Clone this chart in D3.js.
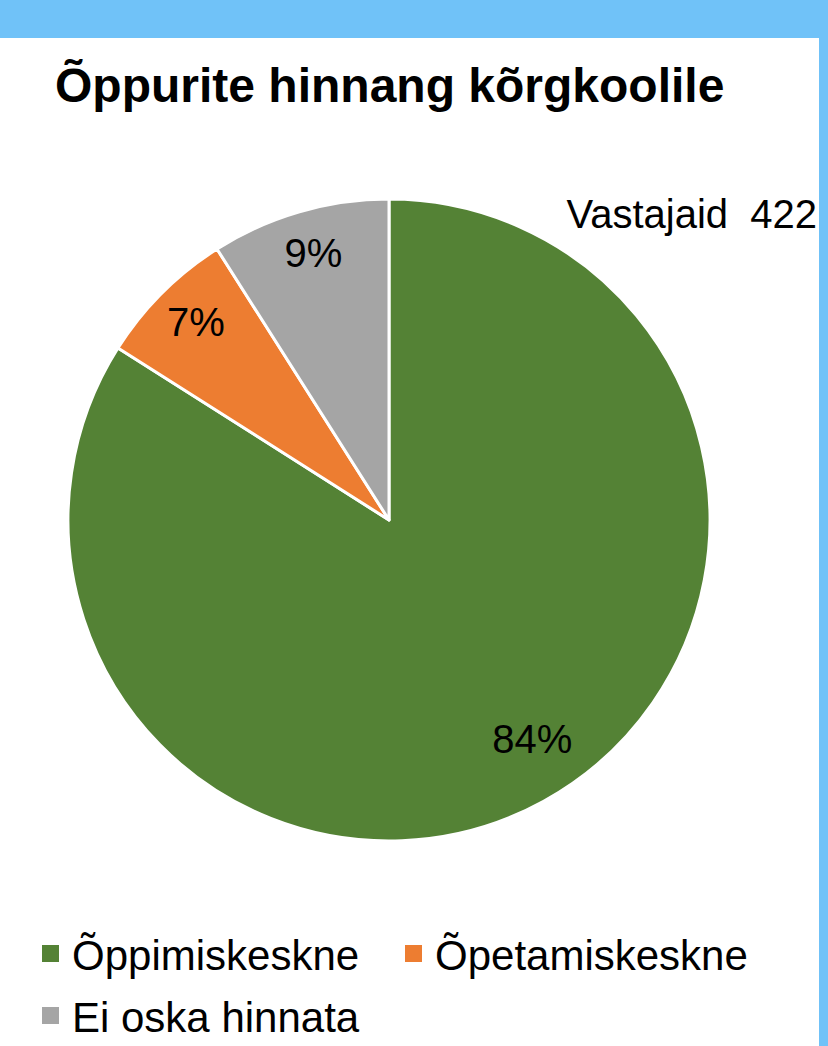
<!DOCTYPE html>
<html>
<head>
<meta charset="utf-8">
<script src="https://cdn.jsdelivr.net/npm/d3@7"></script>
<style>
  html, body { margin: 0; padding: 0; background: #70c2f8; }
  svg { display: block; }
</style>
</head>
<body>
<div id="chart"></div>
<script>
// Chart data
const categories = ['Õppimiskeskne', 'Õpetamiskeskne', 'Ei oska hinnata'];
const shares     = [84, 7, 9];
const colors     = ['#548235', '#ed7d31', '#a5a5a5'];
const titleText  = 'Õppurite hinnang kõrgkoolile';
const noteText   = 'Vastajaid  422';

const width  = 828;
const height = 1046;
const font   = '"Liberation Sans", Arial, sans-serif';

const svg = d3.select('#chart')
  .append('svg')
  .attr('width', width)
  .attr('height', height);

// White slide panel over the blue frame
svg.append('rect')
  .attr('x', 0).attr('y', 38)
  .attr('width', 819).attr('height', height - 38)
  .attr('fill', '#ffffff');

svg.append('text')
  .text(titleText)
  .attr('x', 55).attr('y', 102)
  .attr('font-family', font)
  .attr('font-weight', 'bold')
  .attr('font-size', '48px')
  .attr('fill', '#000000');

svg.append('text')
  .text(noteText)
  .attr('x', 817).attr('y', 228)
  .attr('text-anchor', 'end')
  .attr('font-family', font)
  .attr('font-size', '40px')
  .style('white-space', 'pre')
  .attr('fill', '#000000');

// Pie
const cx = 389, cy = 520, R = 321;
const data = categories.map((c, i) => ({ name: c, value: shares[i], color: colors[i] }));

const pie = d3.pie().sort(null).value(d => d.value);
const arcs = pie(data);
const arc = d3.arc().innerRadius(0).outerRadius(R);

const g = svg.append('g').attr('transform', `translate(${cx},${cy})`);

g.selectAll('path')
  .data(arcs)
  .join('path')
  .attr('d', arc)
  .attr('fill', d => d.data.color)
  .attr('stroke', '#ffffff')
  .attr('stroke-width', 3)
  .attr('stroke-linejoin', 'round');

// Labels roughly where Excel's best-fit puts them (small nudge for the big slice)
const labelArc = d => {
  const r = d.value > 50 ? R * 0.81 : R * 0.855;
  const [x, y] = d3.arc().innerRadius(r).outerRadius(r).centroid(d);
  return d.value > 50 ? [x + 18, y - 9] : [x + 1, y - 4];
};

g.selectAll('text.lbl')
  .data(arcs)
  .join('text')
  .attr('class', 'lbl')
  .text(d => d.data.value + '%')
  .attr('transform', d => `translate(${labelArc(d)})`)
  .attr('text-anchor', 'middle')
  .attr('dy', '0.36em')
  .attr('font-family', font)
  .attr('font-size', '40px')
  .attr('fill', '#000000');

// Legend
const legendPos = [[42, 970], [405, 970], [42, 1032]];
const legend = svg.append('g');
data.forEach((d, i) => {
  const [x, y] = legendPos[i];
  const row = legend.append('g').attr('transform', `translate(${x},${y})`);
  row.append('rect')
    .attr('x', 0).attr('y', -25)
    .attr('width', 17).attr('height', 17)
    .attr('fill', d.color);
  row.append('text')
    .text(d.name)
    .attr('x', 30).attr('y', 0)
    .attr('font-family', font)
    .attr('font-size', '42px')
    .attr('fill', '#000000');
});
</script>
</body>
</html>
